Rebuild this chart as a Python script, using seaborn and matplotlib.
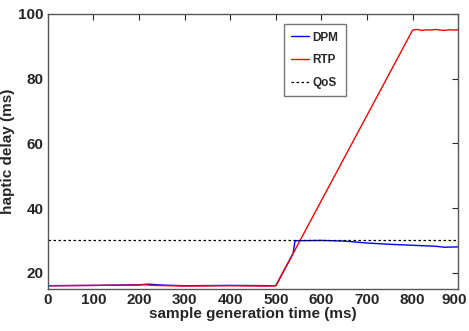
import numpy as np
import pandas as pd
import matplotlib
matplotlib.use("Agg")
import matplotlib.pyplot as plt
import matplotlib.transforms as mtransforms
import seaborn as sns

# ================= DATOS =================
rtp_t = [0, 100, 200, 210, 230, 300, 400, 480, 500, 800, 810, 820, 830, 840, 850, 860, 870, 880, 890, 900]
rtp_y = [16.0, 16.1, 16.2, 16.3, 16.1, 15.9, 16.0, 15.9, 16.0, 95.0, 95.2, 94.9, 95.1, 95.0, 95.2, 95.0, 94.9, 95.1, 95.0, 95.1]

dpm_t = [0, 100, 200, 220, 250, 300, 400, 500, 538, 542, 600, 650, 700, 750, 800, 850, 870, 900]
dpm_y = [16.0, 16.1, 16.3, 16.5, 16.2, 16.0, 16.1, 16.0, 26.0, 29.9, 30.0, 29.8, 29.2, 28.8, 28.5, 28.2, 27.9, 28.0]

qos_t = [0, 900]
qos_y = [30, 30]

# ================= FIGURA =================
sns.set_style("white")
plt.rcParams['font.family'] = ['Liberation Sans Narrow', 'Liberation Sans', 'DejaVu Sans']
plt.rcParams['font.weight'] = 'bold'

fig = plt.figure(figsize=(4.69, 3.31), dpi=100)
ax = fig.add_axes([0.102, 0.127, 0.875, 0.831])

sns.lineplot(x=dpm_t, y=dpm_y, color='blue', linewidth=1.0, label='DPM', ax=ax)
sns.lineplot(x=rtp_t, y=rtp_y, color='red', linewidth=1.0, label='RTP', ax=ax)
sns.lineplot(x=qos_t, y=qos_y, color='black', linewidth=0.9, linestyle=(0, (2, 2)), label='QoS', ax=ax)

ax.set_xlim(0, 900)
ax.set_ylim(15, 100)
ax.set_xticks(range(0, 901, 100))
ax.set_yticks([20, 40, 60, 80, 100])
ax.tick_params(direction='in', length=4, width=0.8, labelsize=11, top=True, right=True, pad=3)
for lbl in ax.get_xticklabels() + ax.get_yticklabels():
    lbl.set_fontweight('bold')
# keep the last x label inside the figure
last = ax.get_xticklabels()[-1]
last.set_transform(last.get_transform() + mtransforms.ScaledTranslation(-4 / 100, 0, fig.dpi_scale_trans))
for s in ax.spines.values():
    s.set_color('#555555')
    s.set_linewidth(1.0)

ax.set_xlabel('sample generation time (ms)', fontsize=11, fontweight='bold', labelpad=0)
ax.set_ylabel('haptic delay (ms)', fontsize=11, fontweight='bold', labelpad=2)

leg = ax.legend(loc='upper left', bbox_to_anchor=(0.562, 0.983), fontsize=8.5,
                frameon=True, fancybox=False, handlelength=1.5, handletextpad=0.3,
                borderpad=0.6, labelspacing=0.9)
leg.get_frame().set_edgecolor('#555555')
leg.get_frame().set_linewidth(1.0)
for t in leg.get_texts():
    t.set_fontweight('bold')

fig.savefig('out.png', dpi=100)
